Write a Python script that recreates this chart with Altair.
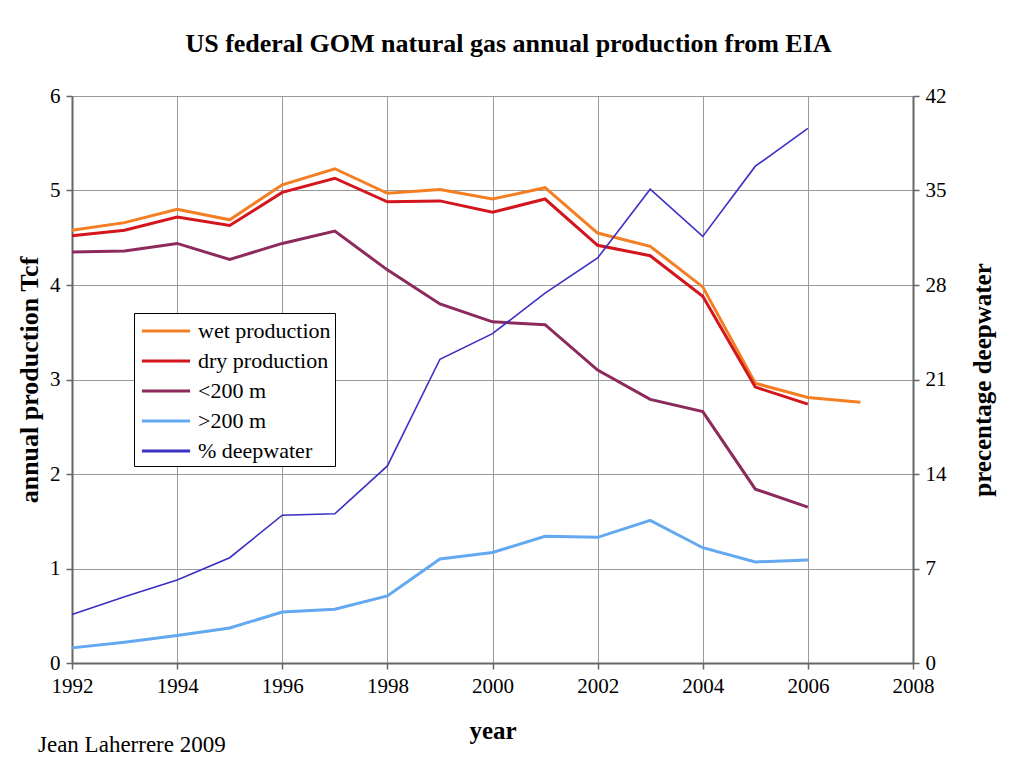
import altair as alt
import pandas as pd

years_wet = list(range(1992, 2008))
years_other = list(range(1992, 2007))

wet = [4.58, 4.66, 4.80, 4.69, 5.06, 5.23, 4.97, 5.01, 4.91, 5.03, 4.55, 4.41, 3.98, 2.96, 2.81, 2.76]
dry = [4.52, 4.58, 4.72, 4.63, 4.98, 5.13, 4.88, 4.89, 4.77, 4.91, 4.42, 4.31, 3.88, 2.92, 2.74]
shallow = [4.35, 4.36, 4.44, 4.27, 4.44, 4.57, 4.16, 3.80, 3.61, 3.58, 3.10, 2.79, 2.66, 1.84, 1.65]
deep = [0.16, 0.22, 0.29, 0.37, 0.54, 0.57, 0.71, 1.10, 1.17, 1.34, 1.33, 1.51, 1.22, 1.07, 1.09]
pct_deep = [3.6, 4.9, 6.15, 7.8, 10.95, 11.05, 14.6, 22.5, 24.4, 27.4, 30.0, 35.1, 31.6, 36.8, 39.6]

series_names = ["wet production", "dry production", "<200 m", ">200 m", "% deepwater"]
series_colors = ["#F47E22", "#D3161D", "#8C2A5B", "#63A8F0", "#3B2FC4"]

x_ticks = list(range(1992, 2009, 2))
left_ticks = [0, 1, 2, 3, 4, 5, 6]
right_ticks = [0, 7, 14, 21, 28, 35, 42]

rows = []
for y, v in zip(years_wet, wet):
    rows.append({"year": y, "value": v, "series": "wet production"})
for y, v in zip(years_other, dry):
    rows.append({"year": y, "value": v, "series": "dry production"})
for y, v in zip(years_other, shallow):
    rows.append({"year": y, "value": v, "series": "<200 m"})
for y, v in zip(years_other, deep):
    rows.append({"year": y, "value": v, "series": ">200 m"})
prod = pd.DataFrame(rows)
pct = pd.DataFrame({"year": years_other, "value": pct_deep, "series": "% deepwater"})

FONT = "Liberation Serif"

color = alt.Color(
    "series:N",
    scale=alt.Scale(domain=series_names, range=series_colors),
    sort=series_names,
    legend=alt.Legend(
        title=None,
        orient="none",
        legendX=62,
        legendY=217,
        fillColor="white",
        strokeColor="black",
        padding=4,
        rowPadding=5,
        symbolType="M-2,0H2",
        symbolSize=580,
        symbolOffset=14,
        symbolStrokeWidth=3,
        labelFont=FONT,
        labelFontSize=22,
        labelColor="black",
        labelOffset=18,
    ),
)

xenc = alt.X(
    "year:Q",
    scale=alt.Scale(domain=[1992, 2008], nice=False, zero=False),
    axis=alt.Axis(
        title="year",
        values=x_ticks,
        format="d",
        grid=True,
        tickSize=6,
        labelPadding=6,
        labelFlush=False,
        titlePadding=22,
        titleFontSize=25,
    ),
)

left = alt.Chart(prod).mark_line(strokeWidth=3).encode(
    x=xenc,
    y=alt.Y(
        "value:Q",
        scale=alt.Scale(domain=[0, 6], nice=False),
        axis=alt.Axis(
            title="annual production Tcf",
            values=left_ticks,
            grid=True,
            tickSize=6,
            labelPadding=6,
            titlePadding=7,
            titleFontSize=26,
        ),
    ),
    color=color,
    detail="series:N",
)

right = alt.Chart(pct).mark_line(strokeWidth=1.6).encode(
    x=xenc,
    y=alt.Y(
        "value:Q",
        scale=alt.Scale(domain=[0, 42], nice=False),
        axis=alt.Axis(
            title="precentage deepwater",
            orient="right",
            values=right_ticks,
            grid=False,
            tickSize=6,
            labelPadding=6,
            titlePadding=49,
            titleAngle=270,
            titleFontSize=25,
        ),
    ),
    color=color,
)

credit = alt.Chart(pd.DataFrame({"t": ["Jean Laherrere 2009"]})).mark_text(
    font=FONT, fontSize=23, align="left", baseline="middle", color="black"
).encode(text="t:N", x=alt.value(-34), y=alt.value(649))

chart = (
    alt.layer(left, right, credit)
    .resolve_scale(y="independent")
    .properties(
        width=841,
        height=567,
        background="white",
        autosize=alt.AutoSizeParams(type="none"),
        padding={"left": 64, "top": 88, "right": 93, "bottom": 100},
        title=alt.Title(
            "US federal GOM natural gas annual production from EIA",
            font=FONT,
            fontSize=26,
            fontWeight="bold",
            anchor="middle",
            dx=16,
            offset=28,
            color="black",
        ),
    )
    .configure_axis(
        labelFont=FONT,
        labelFontSize=21,
        labelColor="black",
        titleFont=FONT,
        titleFontWeight="bold",
        titleColor="black",
        domainColor="#666666",
        domainWidth=2,
        tickColor="#666666",
        tickWidth=1.5,
        gridColor="#9a9a9a",
        gridWidth=1,
    )
    .configure_view(stroke="#9a9a9a", strokeWidth=1)
)

chart.save("out.html", embed_options={"renderer": "svg", "actions": False})
